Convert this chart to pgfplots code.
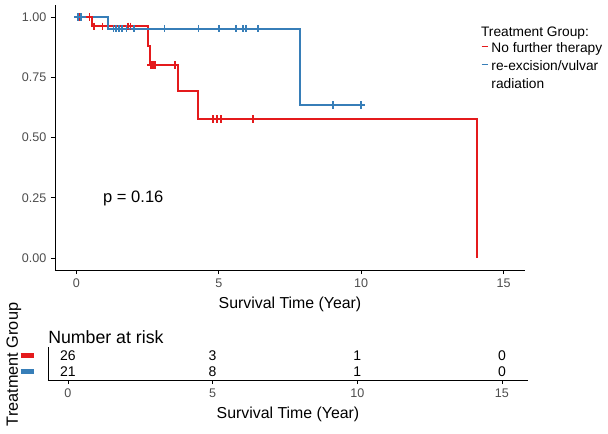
\documentclass[border=0pt]{standalone}
\usepackage{fontspec}
\setmainfont{Liberation Sans}
\usepackage{pgfplots}
\pgfplotsset{compat=1.18}
\definecolor{kmred}{HTML}{E41A1C}
\definecolor{kmblue}{HTML}{377EB8}
\definecolor{tickgray}{HTML}{4D4D4D}
\pgfplotsset{
  km/.style={
    scale only axis,
    axis lines*=left,
    axis line style={-, line width=0.6pt, black},
    tick style={line width=0.6pt, black},
    tick align=outside, major tick length=3pt,
    /pgf/number format/assume math mode=true,
    ticklabel style={font=\fontsize{9.4}{11}\selectfont, text=tickgray},
    label style={font=\fontsize{11.9}{14}\selectfont},
  },
}
\begin{document}
\begin{tikzpicture}
\path[use as bounding box] (0,0) rectangle (456pt,324.75pt);
% --- survival curves ---
\begin{axis}[
    km, width=352.5pt, height=198.75pt,
    at={(41.25pt,122.25pt)}, anchor=south west,
    xmin=-0.75, xmax=15.75, ymin=-0.05, ymax=1.05,
    xtick={0,5,10,15}, ytick={0,0.25,0.5,0.75,1},
    yticklabel style={/pgf/number format/fixed, /pgf/number format/fixed zerofill, /pgf/number format/precision=2},
    xlabel={Survival Time (Year)},
    clip=false,
    legend style={at={(axis description cs:0.906,0.868)}, anchor=north west,
      draw=none, fill=none, font=\fontsize{10.3}{12.5}\selectfont,
      cells={anchor=west}, row sep=0.5pt, inner sep=0pt},
    legend image code/.code={\draw[#1, line width=0.8pt] (0pt,1.5pt) -- (5pt,1.5pt);},
]
\addplot[const plot, kmred, line width=1.4pt] coordinates {
  (0,1) (0.56,0.9615) (2.53,0.881) (2.60,0.801) (3.58,0.692) (4.26,0.577) (14.07,0)};
\addlegendentry{No further therapy}
\addplot[const plot, kmblue, line width=1.4pt] coordinates {
  (0,1) (1.12,0.952) (7.85,0.635) (10.0,0.635)};
\addlegendentry{re-excision/vulvar}
\addlegendimage{empty legend}
\addlegendentry{radiation}
\addplot[only marks, mark=+, mark size=2.8pt, kmred, mark options={line width=1.3pt}, forget plot] coordinates {
  (0.13,1) (0.46,1)
  (0.63,0.9615) (0.92,0.9615) (1.80,0.9615) (1.90,0.9615)
  (2.62,0.801) (2.70,0.801) (2.77,0.801) (3.47,0.801)
  (4.79,0.577) (4.93,0.577) (5.07,0.577) (6.21,0.577)};
\addplot[only marks, mark=+, mark size=2.8pt, kmblue, mark options={line width=1.3pt}, forget plot] coordinates {
  (0.05,1) (0.15,1)
  (1.30,0.952) (1.40,0.952) (1.50,0.952) (1.60,0.952) (1.76,0.952) (2.03,0.952)
  (3.09,0.952) (4.29,0.952) (5.02,0.952) (5.60,0.952) (5.86,0.952) (5.95,0.952) (6.37,0.952)
  (9.00,0.635) (10.0,0.635)};
\node[font=\fontsize{12.4}{14}\selectfont] at (axis cs:2.0,0.245) {p = 0.16};
\node[anchor=west, inner sep=0pt, font=\fontsize{10.3}{12}\selectfont] at (axis description cs:0.906,0.895) {Treatment Group:};
\end{axis}
% --- number at risk table ---
\begin{axis}[
    km, width=360pt, height=24.75pt,
    at={(36pt,39.75pt)}, anchor=south west,
    xmin=-0.69, xmax=15.9, ymin=0.5, ymax=2.5,
    xtick={0,5,10,15}, ytick={1,2},
    yticklabels={\textcolor{kmblue}{\rule{9.75pt}{3.75pt}}, \textcolor{kmred}{\rule{9.75pt}{3.75pt}}},
    y tick style={draw=none},
    yticklabel style={inner sep=0pt, xshift=-7.5pt},
    xlabel={Survival Time (Year)},
    ylabel={Treatment Group},
    every axis y label/.style={at={(axis description cs:-0.071,0.47)}, rotate=90, anchor=center, font=\fontsize{12.2}{14}\selectfont},
    clip=false,
    nodes near coords, point meta=explicit symbolic,
    every node near coord/.append style={anchor=center, font=\fontsize{10.5}{12}\selectfont, text=black, inner sep=0pt},
]
\addplot[draw=none, mark=none] coordinates {(0,2)[26] (5,2)[3] (10,2)[1] (15,2)[0]};
\addplot[draw=none, mark=none] coordinates {(0,1)[21] (5,1)[8] (10,1)[1] (15,1)[0]};
\node[anchor=base west, inner sep=0pt, font=\fontsize{13.3}{15}\selectfont] at ([yshift=3pt]rel axis cs:0,1) {Number at risk};
\end{axis}
\end{tikzpicture}
\end{document}
